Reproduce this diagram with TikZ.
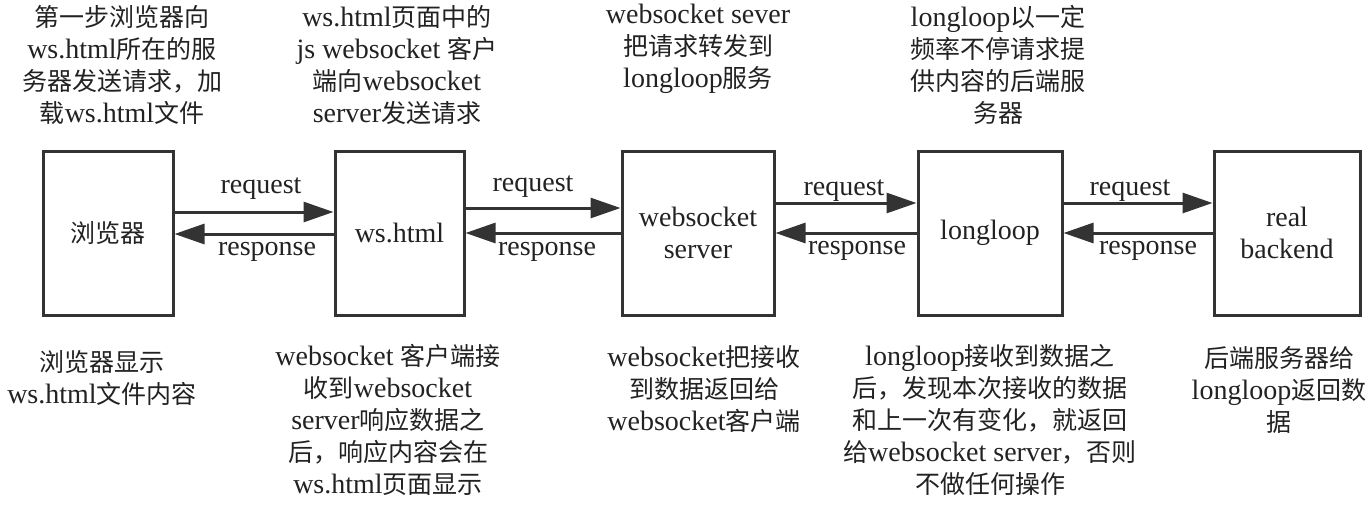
\documentclass[tikz,border=0pt]{standalone}
\usepackage{fontspec}
\setmainfont{Liberation Serif}[Scale=1.12]
\newfontfamily\cjk{Noto Sans CJK SC}
\usetikzlibrary{arrows.meta}
\newcommand\zh[1]{{\cjk #1}}
\definecolor{ink}{HTML}{222222}
\definecolor{lin}{HTML}{333333}
\begin{document}
\begin{tikzpicture}[x=1pt,y=-1pt,
  every node/.style={font=\fontsize{25}{32}\selectfont, text=ink, inner sep=0pt},
  box/.style={draw=lin, line width=3pt, minimum height=164pt, align=center},
  note/.style={align=center},
  lbl/.style={},
  arr/.style={draw=lin, line width=3pt, -{Triangle[length=30pt,width=20pt]}}
]
\useasboundingbox (0,0) rectangle (1372,512);
% boxes
\node[box, minimum width=130pt] (b1) at (108,233) {\zh{浏览器}};
\node[box, minimum width=129pt] (b2) at (399.5,233) {ws.html};
\node[box, minimum width=152pt] (b3) at (698,233) {websocket\\server};
\node[box, minimum width=144pt] (b4) at (990,233) {longloop};
\node[box, minimum width=146pt] (b5) at (1287,233) {real\\backend};
% arrows
\draw[arr] ([yshift=21pt]b1.east) -- ([yshift=21pt]b2.west);
\draw[arr] ([yshift=-1pt]b2.west) -- ([yshift=-1pt]b1.east);
\draw[arr] ([yshift=25pt]b2.east) -- ([yshift=25pt]b3.west);
\draw[arr] ([yshift=0pt]b3.west) -- ([yshift=0pt]b2.east);
\draw[arr] ([yshift=30pt]b3.east) -- ([yshift=30pt]b4.west);
\draw[arr] ([yshift=0pt]b4.west) -- ([yshift=0pt]b3.east);
\draw[arr] ([yshift=30pt]b4.east) -- ([yshift=30pt]b5.west);
\draw[arr] ([yshift=0pt]b5.west) -- ([yshift=0pt]b4.east);
% arrow labels
\node[lbl] (q1) at (261,189) {request};
\node[lbl] (r1) at (267,252) {response};
\node[lbl] (q2) at (533,187) {request};
\node[lbl] (r2) at (547,252) {response};
\node[lbl] (q3) at (844,191) {request};
\node[lbl] (r3) at (857,251) {response};
\node[lbl] (q4) at (1130,191) {request};
\node[lbl] (r4) at (1148,251) {response};
% top notes
\node[note] (t1) at (122,65) {\zh{第一步浏览器向}\\ws.html\zh{所在的服}\\\zh{务器发送请求，加}\\\zh{载}ws.html\zh{文件}};
\node[note] (t2) at (397,65) {ws.html\zh{页面中的}\\js websocket \zh{客户}\\\zh{端向}websocket\\server\zh{发送请求}};
\node[note] (t3) at (698,49) {websocket sever\\\zh{把请求转发到}\\longloop\zh{服务}};
\node[note] (t4) at (998,65) {longloop\zh{以一定}\\\zh{频率不停请求提}\\\zh{供内容的后端服}\\\zh{务器}};
% bottom notes
\node[note] (n1) at (102,378) {\zh{浏览器显示}\\ws.html\zh{文件内容}};
\node[note] (n2) at (388,420) {websocket \zh{客户端接}\\\zh{收到}websocket\\server\zh{响应数据之}\\\zh{后，响应内容会在}\\ws.html\zh{页面显示}};
\node[note] (n3) at (704,389) {websocket\zh{把接收}\\\zh{到数据返回给}\\websocket\zh{客户端}};
\node[note] (n4) at (990,420) {longloop\zh{接收到数据之}\\\zh{后，发现本次接收的数据}\\\zh{和上一次有变化，就返回}\\\zh{给}websocket server\zh{，否则}\\\zh{不做任何操作}};
\node[note] (n5) at (1279,390) {\zh{后端服务器给}\\longloop\zh{返回数}\\\zh{据}};
\end{tikzpicture}
\end{document}
